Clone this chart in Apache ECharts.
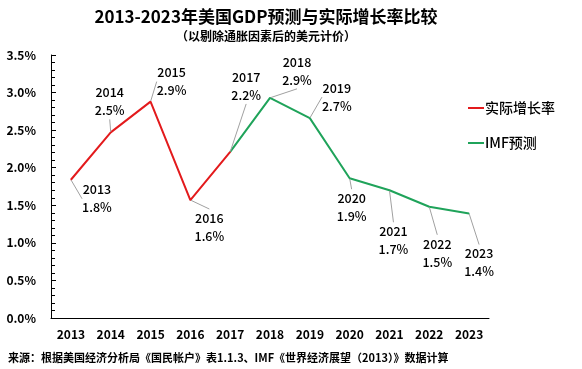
<!DOCTYPE html>
<html><head><meta charset="utf-8">
<script src="https://cdn.jsdelivr.net/npm/echarts@6/dist/echarts.min.js"></script>
<style>html,body{margin:0;padding:0;background:#fff}#c{width:582px;height:369px}</style>
</head><body><div id="c"></div>
<script>
const years = ['2013','2014','2015','2016','2017','2018','2019','2020','2021','2022','2023'];
const actual = [1.84, 2.47, 2.88, 1.57, 2.21, null, null, null, null, null, null];
const imf = [null, null, null, null, 2.21, 2.93, 2.66, 1.86, 1.70, 1.48, 1.39];
const yTicks = [0, 0.5, 1.0, 1.5, 2.0, 2.5, 3.0, 3.5];
// label offsets (style) per year index
const offs = [[26,19],[-1,-31],[21,-20],[19,27],[16,-66],[27,-27],[27,-21],[2,29],[4,50],[8,46],[10,49]];
const FONT = '"Noto Sans CJK SC", "Noto Sans", sans-serif';
const chart = echarts.init(document.getElementById('c'));
const labelCfg = {
  show: true, position: 'inside', fontFamily: FONT, fontSize: 12.5, fontWeight: 500, color: '#000', lineHeight: 18,
  formatter: p => years[p.dataIndex] + '\n' + p.value.toFixed(1) + '%'
};
const layout = p => ({dx: offs[p.dataIndex][0], dy: offs[p.dataIndex][1]});
chart.setOption({
  animation: false,
  textStyle: {fontFamily: FONT},
  title: [
    {text: '2013-2023年美国GDP预测与实际增长率比较', left: 261, top: 3, textAlign: 'center',
     textStyle: {fontFamily: FONT, fontSize: 17, fontWeight: 'bold', color: '#000'}},
    {text: '（以剔除通胀因素后的美元计价）', left: 261, top: 25, textAlign: 'center',
     textStyle: {fontFamily: FONT, fontSize: 12, fontWeight: 'bold', color: '#000'}},
    {text: '来源：根据美国经济分析局《国民帐户》表1.1.3、IMF《世界经济展望（2013）》数据计算', left: 3, top: 347,
     textStyle: {fontFamily: FONT, fontSize: 11, fontWeight: 'bold', color: '#000'}}
  ],
  legend: {
    orient: 'vertical', left: 463, top: 96, itemGap: 21, icon: 'rect', itemWidth: 16, itemHeight: 2,
    textStyle: {fontFamily: FONT, fontSize: 14, fontWeight: 500, color: '#000', padding: [0,0,0,-4]},
    data: ['实际增长率', 'IMF预测']
  },
  grid: {left: 51, right: 93, top: 55, bottom: 51, containLabel: false},
  xAxis: {
    type: 'category', data: years, boundaryGap: true,
    axisLine: {lineStyle: {color: '#000', width: 1}},
    axisTick: {inside: true, length: 5, lineStyle: {color: '#000'}},
    axisLabel: {color: '#000', fontWeight: 'bold', fontSize: 12, margin: 10, fontFamily: FONT},
    splitLine: {show: false}
  },
  yAxis: {
    type: 'value', min: 0, max: 3.5, interval: 0.5,
    axisLine: {show: true, lineStyle: {color: '#000', width: 1}},
    axisTick: {show: true, inside: true, length: 5, lineStyle: {color: '#000'}},
    minorTick: {show: true, splitNumber: 5, length: 4, lineStyle: {color: '#000'}},
    axisLabel: {color: '#000', fontWeight: 'bold', fontSize: 12, margin: 15, fontFamily: FONT,
      formatter: v => v.toFixed(1) + '%'},
    splitLine: {show: false}
  },
  series: [
    {name: '实际增长率', type: 'line', data: actual, symbol: 'circle', symbolSize: 1,
     lineStyle: {color: '#e31a1c', width: 2}, itemStyle: {color: '#e31a1c'},
     label: labelCfg, labelLayout: layout,
     labelLine: {show: true, lineStyle: {color: '#a0a0a0', width: 1}}, z: 3},
    {name: 'IMF预测', type: 'line',
     data: imf.map((v, i) => i === 4 ? {value: v, label: {show: false}, labelLine: {show: false}} : v),
     symbol: 'circle', symbolSize: 1,
     lineStyle: {color: '#1fa35a', width: 2}, itemStyle: {color: '#1fa35a'},
     label: labelCfg, labelLayout: layout,
     labelLine: {show: true, lineStyle: {color: '#a0a0a0', width: 1}}, z: 2}
  ]
});
</script></body></html>
